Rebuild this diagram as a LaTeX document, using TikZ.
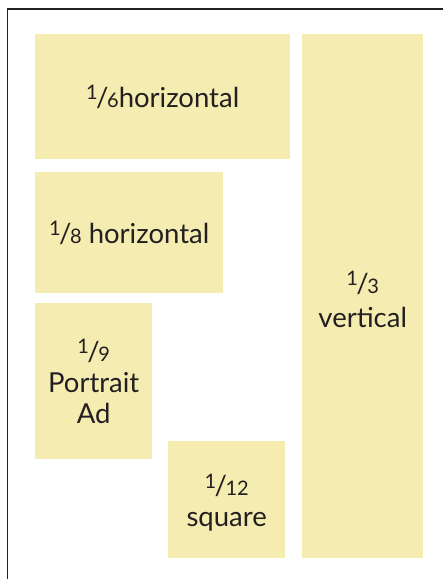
\documentclass[tikz,border=0pt]{standalone}
\usepackage{fontspec}
\setmainfont{Lato}
\definecolor{adfill}{HTML}{F4ECB0}
\definecolor{adtext}{HTML}{231F20}
\definecolor{frameline}{HTML}{222222}
\newcommand\myfr[2]{\raisebox{0.28em}{\fontsize{20}{20}\selectfont #1}\kern-0.06em/\kern-0.05em{\fontsize{20}{20}\selectfont #2}}
\begin{document}
\begin{tikzpicture}[x=1pt,y=-1pt,
  adbox/.style={fill=adfill,draw=none,inner sep=0pt,anchor=north west},
  adlabel/.style={text=adtext,align=center,font=\fontsize{27.5}{31}\selectfont,inner sep=0pt}]
\useasboundingbox (0,0) rectangle (443,579);
\fill[white] (0,0) rectangle (443,579);
\coordinate (ftop) at (443,9);
\coordinate (fcorner) at (7.5,9);
\coordinate (fbottom) at (7.5,579);
\draw[frameline,line width=1.6pt] (ftop) -- (fcorner) -- (fbottom);
% boxes
\node[adbox,minimum width=255pt,minimum height=125pt] (sixth) at (35,34) {};
\node[adbox,minimum width=188pt,minimum height=121pt] (eighth) at (35,172) {};
\node[adbox,minimum width=117pt,minimum height=156pt] (ninth) at (35,303) {};
\node[adbox,minimum width=117pt,minimum height=117pt] (twelfth) at (168,441) {};
\node[adbox,minimum width=121pt,minimum height=524pt] (third) at (302,34) {};
% labels
\node[adlabel] (sixthl) at (sixth.center) {\myfr{1}{6}horizontal};
\node[adlabel] (eighthl) at (eighth.center) {\myfr{1}{8} horizontal};
\node[adlabel] (ninthl) at (ninth.center) {\myfr{1}{9}\\Portrait\\Ad};
\node[adlabel] (twelfthl) at ([yshift=-3pt]twelfth.center) {\myfr{1}{12}\\square};
\node[adlabel,font=\fontsize{27.5}{34}\selectfont] (thirdl) at ([yshift=-3pt]third.center) {\myfr{1}{3}\\vertical};
\end{tikzpicture}
\end{document}
